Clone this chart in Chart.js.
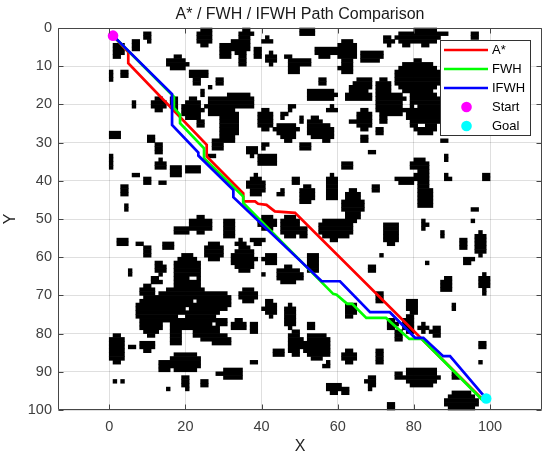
<!DOCTYPE html>
<html>
<head>
<meta charset="utf-8">
<script src="https://cdn.jsdelivr.net/npm/chart.js@4.4.0/dist/chart.umd.min.js"></script>
<style>
html,body{margin:0;padding:0;background:#fff;}
#wrap{width:550px;height:459px;}
</style>
</head>
<body>
<div id="wrap"><canvas id="c" width="550" height="459"></canvas></div>
<script>
// ---------- data ----------
const chartTitle = 'A* / FWH / IFWH Path Comparison';
const xAxisLabel = 'X';
const yAxisLabel = 'Y';
const xTickValues = [0, 20, 40, 60, 80, 100];
const yTickValues = [0, 10, 20, 30, 40, 50, 60, 70, 80, 90, 100];
const seriesNames = ['A*', 'FWH', 'IFWH', 'Start', 'Goal'];
const mapSize = 100; // occupancy grid is 100 x 100 cells

const astarPath = [[1,2],[5,6.3],[5,9.2],[25.6,30.6],[25.6,33.6],[35.2,43.3],[35.2,45.4],[38.3,45.4],[39.1,46],[41.3,46.3],[43.5,48],[48.8,48.4],[97.4,96.6],[99,97]];
const fwhPath = [[1,2],[2,3],[17,18],[17,20.9],[18.6,22.7],[18.6,24.9],[24.9,31.5],[24.9,34.1],[35.2,44.1],[35.2,45.8],[58.8,69.6],[59.7,69.8],[62.5,72.2],[63.8,72.2],[67.5,75.9],[72.7,75.9],[78.8,81.4],[82.1,81.4],[97.8,97.2],[99,97]];
const ifwhPath = [[1,2],[16.5,17.3],[16.5,25.4],[23.4,32.6],[23.4,33.4],[32.6,42.4],[32.6,44.3],[55.8,66.3],[60.6,66.3],[68.5,74.4],[73.7,74.4],[80.3,81.1],[82.5,81.1],[87.7,85.9],[89.5,85.9],[99,97]];
const startPoint = [1, 2];
const goalPoint = [99, 97];

// obstacle blobs of the occupancy map: [centerX, centerY, halfWidth, halfHeight] in map units
const obstacleBlobs = [
  [2.3,5.8,1.6,1.8],[6.9,4.4,1.0,1.3],[10.4,2.4,0.9,1.5],[17.9,9.4,2.6,1.8],[25.1,2.2,2.0,2.2],
  [30.4,6.1,1.5,2.2],[34.5,4.6,2.3,2.0],[36.0,1.3,1.5,1.3],[35.0,8.3,0.9,1.3],[39.0,6.8,1.1,1.5],
  [42.4,8.0,1.3,1.5],[48.6,10.0,1.5,1.8],[41.5,3.3,0.9,1.0],[46.7,7.6,0.8,0.6],[23.6,11.8,2.4,1.1],
  [29.0,13.8,0.7,0.7],[22.9,14.0,0.6,0.6],[24.3,16.8,0.6,0.6],[26.6,15.7,0.5,0.5],[4.1,12.2,0.7,0.9],
  [0.4,12.7,0.5,1.3],[12.7,20.0,1.8,1.5],[6.3,20.0,0.6,0.6],[17.2,19.7,1.0,1.7],[21.8,21.4,2.6,2.8],
  [34.0,19.2,4.3,2.1],[27.9,20.5,2.2,2.6],[31.4,25.3,2.6,4.4],[28.4,30.4,1.7,1.5],[24.0,25.3,0.8,0.8],
  [41.0,24.0,2.2,2.8],[46.5,26.5,3.5,1.3],[47.0,27.5,1.5,2.2],[47.6,20.9,0.8,0.8],[45.7,22.7,0.7,0.7],
  [1.2,28.0,1.3,1.0],[10.9,29.0,0.9,1.1],[12.8,31.5,1.1,1.6],[0.6,34.8,0.6,1.7],[13.5,35.8,1.3,1.3],
  [17.5,37.4,1.3,1.5],[22.0,37.0,2.0,1.1],[6.8,38.6,1.1,0.7],[9.8,40.4,1.1,0.9],[14.0,40.4,0.8,0.8],
  [3.9,42.6,0.8,1.5],[4.6,47.3,0.7,1.0],[27.0,33.4,0.6,0.6],[37.3,32.2,1.4,1.3],[41.3,34.5,2.4,1.7],
  [38.6,41.1,2.0,2.6],[40.6,30.6,0.8,0.8],[45.4,43.2,0.8,0.8],[49.3,39.8,0.9,0.9],[47.5,52.0,2.8,3.0],
  [41.8,51.0,2.2,1.7],
  [24.0,51.5,3.0,2.0],[31.4,52.4,1.7,2.4],[19.0,53.0,2.0,1.0],[3.3,55.9,1.5,1.1],[8.0,56.3,0.7,0.7],
  [10.0,58.7,0.8,1.3],[15.7,57.2,1.3,1.1],[34.3,56.3,1.1,0.7],[39.3,55.6,1.7,0.9],[27.5,58.7,2.6,2.2],
  [35.4,60.5,3.0,3.0],[42.3,60.5,1.7,1.7],[47.0,64.6,2.8,2.2],[40.4,64.4,0.6,0.6],[5.2,63.9,0.6,0.6],
  [13.4,62.7,1.1,1.7],
  [20.5,64.6,3.5,5.5],[19.7,73.3,9.0,5.5],[10.0,74.0,3.0,3.5],[28.0,71.5,3.7,2.8],[25.5,79.5,3.5,2.0],
  [29.5,81.8,2.5,1.3],[11.0,77.8,2.8,2.6],[10.3,69.2,2.0,1.7],[12.2,66.1,1.2,1.2],[17.5,81.2,1.7,2.0],
  [2.0,84.0,2.0,4.0],[10.0,83.3,1.7,1.5],[5.9,83.3,0.6,0.6],[29.3,76.8,1.7,1.1],[34.0,77.7,1.7,1.5],
  [38.0,78.3,0.9,1.3],[36.5,70.0,2.0,1.7],[42.1,73.4,1.5,2.0],[47.5,75.5,1.6,3.0],[48.8,82.5,1.7,3.5],
  [44.8,85.0,1.3,1.3],[19.7,87.5,4.0,2.5],[14.2,88.7,1.5,1.3],[20.2,92.8,1.0,1.7],[25.0,93.0,0.9,0.9],
  [29.0,90.4,1.1,0.7],[32.5,90.5,2.6,1.6],[37.8,87.5,0.8,0.8],[1.5,92.5,0.6,0.6],[3.7,92.8,0.6,0.5],
  [15.5,94.7,0.5,0.5],
  [51.9,1.0,2.0,1.1],[56.5,6.3,2.4,1.5],[51.3,8.9,1.3,1.1],[62.4,6.0,2.8,2.6],[68.8,7.4,3.0,1.7],
  [73.1,3.1,1.3,1.3],[78.4,2.6,3.0,1.8],[82.7,2.2,3.9,2.2],[88.0,1.5,1.0,0.9],[96.2,2.0,0.8,0.7],
  [62.2,10.5,1.7,1.7],[55.7,14.0,0.9,1.1],[55.7,17.5,3.9,1.7],[64.0,16.2,0.7,0.7],[65.5,17.7,3.7,1.5],
  [66.6,14.6,2.4,1.5],[72.0,15.9,2.0,2.4],[81.0,13.0,5.7,4.4],[82.7,21.8,4.4,6.0],[74.2,20.0,4.4,3.0],
  [58.5,21.4,1.5,0.9],[50.5,24.0,0.6,1.0],[54.0,26.0,2.0,2.6],[56.7,27.3,2.4,2.2],[67.0,24.0,2.2,2.8],
  [63.8,24.6,0.7,0.7],[72.0,24.0,0.8,0.8],[71.0,27.0,0.8,0.8],[66.6,29.0,0.9,0.9],[51.3,31.0,1.3,0.9],
  [88.0,29.5,0.9,0.9],[88.3,34.0,0.5,0.5],[69.0,32.7,0.5,0.5],[62.2,36.0,1.3,1.1],[81.4,35.8,2.4,1.3],
  [82.4,39.3,1.9,2.4],[88.6,39.3,0.9,0.9],[99.2,39.0,0.8,0.8],[77.9,39.8,2.6,1.1],[58.5,41.9,1.7,3.3],
  [51.8,43.7,2.0,2.4],[64.0,46.3,2.4,4.2],[70.2,42.3,1.1,0.9],[83.0,44.5,2.0,2.6],[95.7,47.5,0.6,0.6],
  [59.2,52.6,4.5,2.8],[51.0,53.3,1.0,1.5],[74.0,53.9,2.2,3.0],[82.8,51.5,0.9,0.9],[87.5,53.7,0.5,0.6],
  [95.5,50.6,0.6,0.6],[97.3,56.5,1.5,3.0],[93.0,56.5,1.1,0.9],[94.1,60.7,1.3,0.7],[53.5,61.6,1.8,2.6],
  [50.6,65.0,0.6,1.0],[69.0,63.3,1.1,1.1],[71.6,59.4,0.6,0.6],[83.5,61.7,0.8,0.4],[88.7,67.3,1.5,2.0],
  [98.5,66.6,0.9,2.8],[71.0,70.3,0.9,1.5],[63.3,73.9,1.5,2.0],[90.4,73.0,0.6,0.8],[79.7,72.7,1.3,2.0],
  [78.8,77.3,1.3,2.4],[74.2,77.5,1.1,1.8],[75.8,80.6,0.9,1.3],[82.5,78.6,1.1,1.1],[85.6,79.5,1.1,1.5],
  [54.8,83.2,3.5,3.5],[53.0,78.0,1.2,0.6],[63.3,86.0,2.0,1.5],[71.1,86.0,1.1,1.5],[57.4,88.4,0.9,0.9],
  [76.0,90.6,0.9,0.9],[82.0,91.3,4.4,2.6],[90.6,91.4,0.9,0.9],[97.8,82.8,0.9,1.1],[59.2,94.1,2.0,1.3],
  [68.9,92.6,1.3,1.8],[62.2,95.0,0.8,0.6],[92.5,97.7,4.0,2.5],[74.0,99.0,0.7,1.0],[97.5,87.7,0.4,0.4]
];
// free cells inside the large obstacles
const obstacleHoles = [
  [22.0,65.5,0.7,0.9],[22.7,71.4,0.6,0.6],[20.7,73.4,0.7,0.7],[19.0,75.5,0.7,0.7],[14.8,77.6,0.9,1.1],
  [77.8,20.0,1.1,1.3],[80.7,20.7,0.6,0.6],[82.0,25.5,1.3,0.6]
];

// ---------- rendering ----------
const FONT = '"Liberation Sans", Arial, Helvetica, sans-serif';
const AXIS_COLOR = 'rgb(70,70,70)';
const toPts = arr => arr.map(([x, y]) => ({x, y}));
const inAny = (px, py, list, pad) => list.some(([cx, cy, rx, ry]) =>
  ((px - cx) / (rx + pad)) ** 2 + ((py - cy) / (ry + pad)) ** 2 <= 1);
const isOccupied = (i, j) =>
  inAny(i + 0.5, j + 0.5, obstacleBlobs, 0.2) && !inAny(i + 0.5, j + 0.5, obstacleHoles, 0);

const mapPlugin = {
  id: 'occupancyMap',
  beforeDraw(chart) {
    const {ctx} = chart;
    ctx.save();
    ctx.fillStyle = '#ffffff';
    ctx.fillRect(0, 0, chart.width, chart.height);
    ctx.restore();
  },
  beforeDatasetsDraw(chart) {
    const {ctx, scales: {x: sx, y: sy}} = chart;
    ctx.save();
    ctx.fillStyle = '#000000';
    for (let j = 0; j < mapSize; j++) {
      const ya = sy.getPixelForValue(j), yb = sy.getPixelForValue(j + 1);
      const top = Math.min(ya, yb), h = Math.abs(yb - ya);
      let i = 0;
      while (i < mapSize) {
        if (!isOccupied(i, j)) { i++; continue; }
        let k = i;
        while (k + 1 < mapSize && isOccupied(k + 1, j)) k++;
        const xa = sx.getPixelForValue(i), xb = sx.getPixelForValue(k + 1);
        ctx.fillRect(xa - 0.3, top - 0.3, (xb - xa) + 0.6, h + 0.6);
        i = k + 1;
      }
    }
    ctx.restore();
  }
};

const overlayPlugin = {
  id: 'overlay',
  afterDraw(chart) {
    const {ctx, chartArea: a, scales: {x: sx, y: sy}} = chart;
    ctx.save();
    // box + inward ticks
    ctx.strokeStyle = AXIS_COLOR;
    ctx.lineWidth = 1;
    const L = Math.round(a.left) + 0.5, R = Math.round(a.right) - 0.5;
    const T = Math.round(a.top) + 0.5, B = Math.round(a.bottom) - 0.5;
    ctx.beginPath();
    ctx.rect(L, T, R - L, B - T);
    ctx.stroke();
    const tl = 5;
    ctx.beginPath();
    for (const v of xTickValues) {
      const px = Math.round(sx.getPixelForValue(v)) + 0.5;
      ctx.moveTo(px, B); ctx.lineTo(px, B - tl);
      ctx.moveTo(px, T); ctx.lineTo(px, T + tl);
    }
    for (const v of yTickValues) {
      const py = Math.round(sy.getPixelForValue(v)) + 0.5;
      ctx.moveTo(L, py); ctx.lineTo(L + tl, py);
      ctx.moveTo(R, py); ctx.lineTo(R - tl, py);
    }
    ctx.stroke();

    // title and axis labels
    ctx.fillStyle = '#1a1a1a';
    ctx.textAlign = 'center';
    ctx.textBaseline = 'middle';
    ctx.font = `16px ${FONT}`;
    ctx.fillText(chartTitle, (a.left + a.right) / 2, 15);
    ctx.fillStyle = '#262626';
    ctx.fillText(xAxisLabel, (a.left + a.right) / 2, 447);
    ctx.save();
    ctx.translate(11, (a.top + a.bottom) / 2);
    ctx.rotate(-Math.PI / 2);
    ctx.fillText(yAxisLabel, 0, 0);
    ctx.restore();

    // legend
    const lw = 90, lh = 95;
    const lx = a.right - 12 - lw, ly = a.top + 12;
    ctx.fillStyle = '#ffffff';
    ctx.fillRect(lx, ly, lw, lh);
    ctx.strokeStyle = 'rgb(50,50,50)';
    ctx.lineWidth = 1;
    ctx.strokeRect(Math.round(lx) + 0.5, Math.round(ly) + 0.5, lw, lh);
    const ds = chart.data.datasets;
    ctx.font = `13px ${FONT}`;
    ctx.textAlign = 'left';
    ctx.textBaseline = 'middle';
    for (let i = 0; i < seriesNames.length; i++) {
      const d = ds.find(s => s.label === seriesNames[i]);
      const ry = ly + 10 + i * 19;
      if (d.showLine) {
        ctx.strokeStyle = d.borderColor;
        ctx.lineWidth = d.borderWidth;
        ctx.beginPath();
        ctx.moveTo(lx + 4, ry); ctx.lineTo(lx + 48, ry);
        ctx.stroke();
      } else {
        ctx.fillStyle = d.backgroundColor;
        ctx.beginPath();
        ctx.arc(lx + 26.5, ry, d.pointRadius, 0, Math.PI * 2);
        ctx.fill();
      }
      ctx.fillStyle = '#000000';
      ctx.fillText(seriesNames[i], lx + 52, ry + 0.5);
    }
    ctx.restore();
  }
};

const lineSet = (label, pts, color, order) => ({
  label, data: toPts(pts), showLine: true, borderColor: color, backgroundColor: color,
  borderWidth: 2.7, pointRadius: 0, tension: 0, order, clip: false
});

new Chart(document.getElementById('c'), {
  type: 'scatter',
  data: {
    datasets: [
      lineSet(seriesNames[0], astarPath, '#ff0000', 5),
      lineSet(seriesNames[1], fwhPath, '#00ff00', 4),
      lineSet(seriesNames[2], ifwhPath, '#0000ff', 3),
      {label: seriesNames[3], data: toPts([startPoint]), showLine: false, pointRadius: 5.3,
       backgroundColor: '#ff00ff', borderWidth: 0, order: 2},
      {label: seriesNames[4], data: toPts([goalPoint]), showLine: false, pointRadius: 5.3,
       backgroundColor: '#00ffff', borderWidth: 0, order: 1}
    ]
  },
  options: {
    responsive: false,
    animation: false,
    events: [],
    layout: {padding: {top: 28, right: 8, left: 0, bottom: 0}},
    plugins: {legend: {display: false}, tooltip: {enabled: false}, title: {display: false}},
    scales: {
      x: {
        type: 'linear', min: -13.45, max: 113.65,
        afterBuildTicks: s => { s.ticks = xTickValues.map(v => ({value: v})); },
        afterFit: s => { s.height = 49; },
        ticks: {color: '#404040', font: {family: FONT, size: 14.5}, padding: 8, maxRotation: 0},
        grid: {color: 'rgba(38,38,38,0.15)', lineWidth: 1, drawTicks: false},
        border: {display: false}
      },
      y: {
        type: 'linear', min: 0, max: 100, reverse: true,
        afterBuildTicks: s => { s.ticks = yTickValues.map(v => ({value: v})); },
        afterFit: s => { s.width = 58; },
        ticks: {color: '#404040', font: {family: FONT, size: 14.5}, padding: 6},
        grid: {color: 'rgba(38,38,38,0.15)', lineWidth: 1, drawTicks: false},
        border: {display: false}
      }
    }
  },
  plugins: [mapPlugin, overlayPlugin]
});
</script>
</body>
</html>
